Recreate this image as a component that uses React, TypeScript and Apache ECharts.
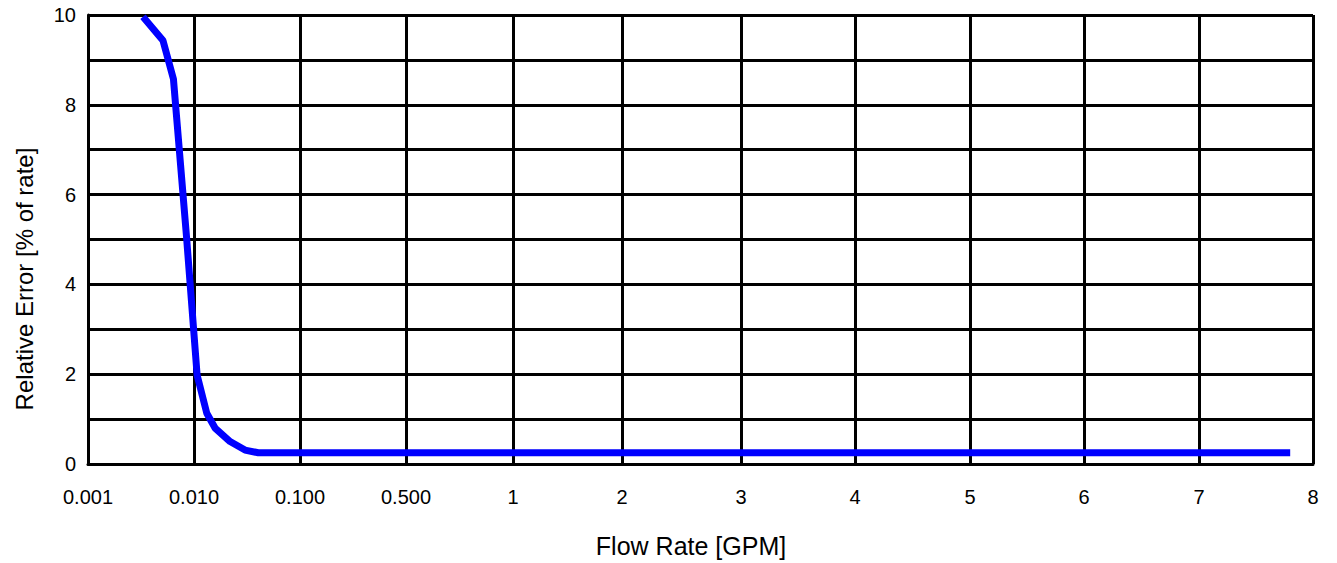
import React, { useEffect, useRef } from "react";
import * as echarts from "echarts";

// X-axis tick labels and the flow-rate values they stand for
const tickLabels = ["0.001", "0.010", "0.100", "0.500", "1", "2", "3", "4", "5", "6", "7", "8"];
const tickValues = [0.001, 0.01, 0.1, 0.5, 1, 2, 3, 4, 5, 6, 7, 8];
// Axis positions of the ticks (the source chart spaces them unevenly)
const tickPos = [0, 106, 212, 318, 425, 534, 653, 767, 882, 996, 1111, 1225];

// Curve data: flow rate [GPM] and relative error [% of rate]
const flowRate = [0.0033, 0.0051, 0.0064, 0.0085, 0.0107, 0.0132, 0.0158, 0.0219, 0.0303, 0.0404, 7.8];
const relError = [9.96, 9.43, 8.57, 5.06, 1.98, 1.13, 0.8, 0.5, 0.31, 0.25, 0.25];

const yTicks = [0, 2, 4, 6, 8, 10];

const xTitle = "Flow Rate [GPM]";
const yTitle = "Relative Error [% of rate]";

function toAxis(v: number): number {
  for (let i = 0; i < tickValues.length - 1; i++) {
    const a = tickValues[i];
    const b = tickValues[i + 1];
    if (v >= a && v <= b) {
      let f: number;
      if (b <= 1) f = (Math.log10(v) - Math.log10(a)) / (Math.log10(b) - Math.log10(a));
      else f = (v - a) / (b - a);
      return tickPos[i] + f * (tickPos[i + 1] - tickPos[i]);
    }
  }
  return v < tickValues[0] ? tickPos[0] : tickPos[tickPos.length - 1];
}

export default function App() {
  const ref = useRef<HTMLDivElement>(null);
  useEffect(() => {
    if (!ref.current) return;
    document.body.style.margin = "0";
    document.body.style.overflow = "hidden";
    const chart = echarts.init(ref.current, undefined, { renderer: "svg" });
    const font = "'Liberation Sans', Arial, sans-serif";
    chart.setOption({
      animation: false,
      backgroundColor: "#ffffff",
      grid: { left: 88, right: 24, top: 15, bottom: 99, containLabel: false },
      graphic: [
        {
          type: "text",
          x: 691,
          y: 546,
          style: {
            text: xTitle,
            fontFamily: font,
            fontSize: 25,
            fill: "#000",
            align: "center",
            verticalAlign: "middle",
          },
        },
        {
          type: "text",
          x: 24,
          y: 279,
          rotation: Math.PI / 2,
          style: {
            text: yTitle,
            fontFamily: font,
            fontSize: 24,
            fill: "#000",
            align: "center",
            verticalAlign: "middle",
          },
        },
      ],
      xAxis: {
        type: "value",
        min: 0,
        max: tickPos[tickPos.length - 1],
        axisLine: { show: true, lineStyle: { color: "#000", width: 3 } },
        axisTick: { show: false, customValues: tickPos },
        axisLabel: {
          customValues: tickPos,
          fontFamily: font,
          fontSize: 20,
          color: "#000",
          margin: 23,
          formatter: (v: number) => {
            const i = tickPos.indexOf(Math.round(v));
            return i >= 0 ? tickLabels[i] : "";
          },
        },
        splitLine: { show: true, lineStyle: { color: "#000", width: 3 } },
      },
      yAxis: {
        type: "value",
        min: 0,
        max: 10,
        interval: 1,
        axisLine: { show: true, lineStyle: { color: "#000", width: 3 } },
        axisTick: { show: false },
        axisLabel: {
          fontFamily: font,
          fontSize: 20,
          color: "#000",
          margin: 12,
          formatter: (v: number) => (yTicks.indexOf(v) >= 0 ? String(v) : ""),
        },
        splitLine: { show: true, lineStyle: { color: "#000", width: 3 } },
      },
      series: [
        {
          type: "line",
          data: flowRate.map((f, i) => [toAxis(f), relError[i]]),
          symbol: "none",
          lineStyle: { color: "#0000ff", width: 7 },
          z: 5,
        },
      ],
    });
    return () => chart.dispose();
  }, []);
  return (
    <div
      ref={ref}
      style={{ position: "fixed", left: 0, top: 0, width: 1337, height: 563 }}
    />
  );
}
